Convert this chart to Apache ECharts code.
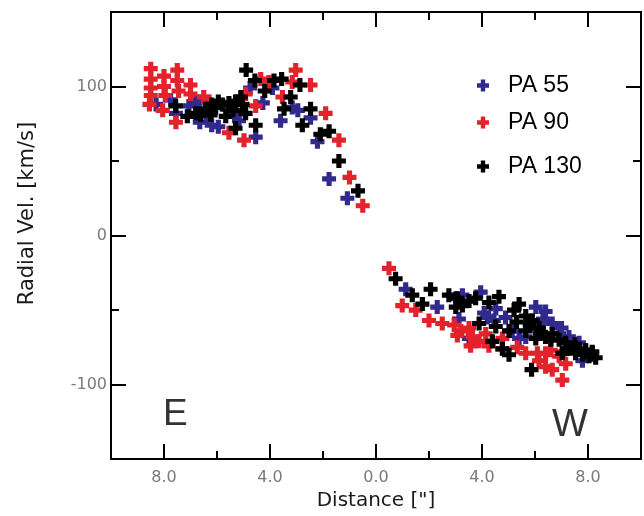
<!DOCTYPE html>
<html>
<head>
<meta charset="utf-8">
<script src="https://cdn.jsdelivr.net/npm/echarts@6/dist/echarts.min.js"></script>
<style>html,body{margin:0;padding:0;background:#fff;}#c{width:644px;height:516px;}</style>
</head>
<body>
<div id="c"></div>
<script>
// Distance: negative = East (left), positive = West (right); labels show absolute value
const xMajorTicks = [-8, -4, 0, 4, 8];
const xMinorTicks = [-6, -2, 2, 6];
const yMajorTicks = [-100, 0, 100];
const yMinorTicks = [-50, 50];
const seriesNames = ['PA 55', 'PA 90', 'PA 130'];

const pa55 = [
  [-8.3, 88], [-7.75, 91], [-7.55, 82], [-7.06, 87], [-6.8, 89], [-6.68, 90], [-6.65, 76], [-6.4, 80],
  [-6.2, 74], [-5.95, 73], [-5.6, 85], [-5.3, 81], [-5.17, 77], [-4.75, 99], [-4.54, 66], [-4.27, 89],
  [-3.91, 99], [-3.6, 77], [-3.16, 86], [-2.95, 84], [-2.47, 79], [-2.21, 63], [-1.77, 38], [-1.08, 25],
  [1.12, -36], [2.31, -48], [3.01, -42], [3.26, -40], [3.95, -38], [3.13, -56], [3.51, -69], [4.08, -52],
  [4.2, -55], [4.45, -57], [4.52, -49], [4.89, -55], [5.14, -64], [5.4, -69], [5.65, -68], [6.03, -48],
  [6.3, -56], [6.4, -51], [6.65, -59], [6.91, -66], [7.0, -62], [7.28, -68], [7.66, -72], [7.79, -84],
  [7.91, -77], [8.16, -79]
];
const pa90 = [
  [-8.5, 112], [-8.5, 105], [-8.5, 99], [-8.5, 94], [-8.55, 88], [-8.0, 107], [-8.0, 100], [-7.95, 94],
  [-8.05, 84], [-7.5, 111], [-7.5, 104], [-7.45, 97], [-7.55, 76], [-7.0, 101], [-7.0, 95], [-6.5, 93],
  [-6.3, 90], [-5.55, 69], [-4.98, 64], [-4.92, 95], [-4.54, 87], [-4.35, 105], [-4.04, 103], [-3.03, 111],
  [-3.16, 103], [-2.47, 101], [-3.53, 93], [-1.9, 82], [-1.4, 64], [-1.0, 39], [-0.5, 20],
  [0.49, -22], [0.99, -47], [1.5, -50], [2.0, -57], [2.5, -59], [2.95, -60], [3.07, -67], [3.2, -64],
  [3.51, -62], [3.57, -74], [3.64, -68], [3.89, -71], [4.14, -66], [4.26, -74], [4.77, -69], [4.77, -76],
  [5.33, -75], [5.65, -79], [6.09, -79], [6.15, -84], [6.4, -88], [6.4, -79], [6.59, -77], [6.65, -90],
  [6.91, -81], [7.03, -97], [7.16, -86]
];
const pa130 = [
  [-7.56, 87], [-7.12, 80], [-6.8, 82], [-6.62, 81], [-6.43, 85], [-6.24, 81], [-6.2, 88], [-6.05, 86],
  [-5.95, 90], [-5.8, 88], [-5.67, 80], [-5.55, 89], [-5.4, 84], [-5.3, 90], [-5.3, 72], [-5.1, 93],
  [-5.04, 88], [-4.92, 82], [-4.54, 74], [-4.9, 111], [-4.57, 104], [-4.2, 97], [-3.85, 104], [-3.56, 105],
  [-2.87, 101], [-3.22, 93], [-3.47, 85], [-2.47, 85], [-2.78, 74], [-2.1, 68], [-1.77, 70], [-1.4, 50],
  [-0.68, 30],
  [0.74, -29], [1.37, -40], [1.75, -46], [2.06, -36], [2.75, -40], [3.01, -48], [3.07, -42], [3.26, -47],
  [3.51, -44], [3.76, -42], [3.89, -59], [4.26, -45], [4.39, -71], [4.52, -61], [4.64, -41], [4.77, -76],
  [5.02, -80], [5.02, -64], [5.21, -50], [5.3, -58], [5.4, -46], [5.65, -54], [5.65, -64], [5.8, -60],
  [5.87, -90], [5.9, -57], [6.03, -69], [6.15, -62], [6.2, -65], [6.4, -68], [6.6, -70], [6.65, -66],
  [6.91, -70], [7.03, -79], [7.16, -72], [7.2, -76], [7.41, -75], [7.5, -73], [7.53, -79], [7.66, -76],
  [7.8, -80], [7.91, -77], [8.04, -81], [8.1, -80], [8.16, -78], [8.29, -82]
];

const colors = ['#2f2a8c', '#e3222b', '#000000'];
const plus = 'path://M3.8,0H8.2V3.8H12V8.2H8.2V12H3.8V8.2H0V3.8H3.8Z';
const axisLineStyle = { color: '#000', width: 2 };

function xAx(position, ticks, len, labels, extra) {
  return Object.assign({
    type: 'value', min: -10, max: 10, position: position,
    axisLine: { show: true, onZero: false, lineStyle: axisLineStyle },
    axisTick: { show: true, inside: true, length: len, customValues: ticks, lineStyle: { color: '#000', width: 2 } },
    axisLabel: labels ? {
      show: true, customValues: ticks, formatter: v => Math.abs(v).toFixed(1),
      color: '#7a7a7a', fontSize: 16, fontFamily: 'DejaVu Sans', margin: 11
    } : { show: false },
    splitLine: { show: false }
  }, extra || {});
}
function yAx(position, ticks, len, labels, extra) {
  return Object.assign({
    type: 'value', min: -150, max: 150, position: position,
    axisLine: { show: true, onZero: false, lineStyle: axisLineStyle },
    axisTick: { show: true, inside: true, length: len, customValues: ticks, lineStyle: { color: '#000', width: 2 } },
    axisLabel: labels ? {
      show: true, customValues: ticks, color: '#7a7a7a', fontSize: 16, fontFamily: 'DejaVu Sans', margin: 4
    } : { show: false },
    splitLine: { show: false }
  }, extra || {});
}

const chart = echarts.init(document.getElementById('c'), null, { renderer: 'canvas' });
chart.setOption({
  backgroundColor: '#fff',
  animation: false,
  grid: { left: 111, right: 3, top: 12, bottom: 55, containLabel: false },
  xAxis: [
    xAx('bottom', xMajorTicks, 15, true, {
      name: 'Distance ["]', nameLocation: 'middle', nameGap: 24,
      nameTextStyle: { fontSize: 20, fontFamily: 'DejaVu Sans', color: '#1a1a1a', verticalAlign: 'top' }
    }),
    xAx('bottom', xMinorTicks, 8, false),
    xAx('top', xMajorTicks, 15, false),
    xAx('top', xMinorTicks, 8, false)
  ],
  yAxis: [
    yAx('left', yMajorTicks, 15, true, {
      name: 'Radial Vel. [km/s]', nameLocation: 'middle', nameGap: 73, nameRotate: 90,
      nameTextStyle: { fontSize: 21, fontFamily: 'DejaVu Sans', color: '#1a1a1a', padding: [0, 0, 0, 44] }
    }),
    yAx('left', yMinorTicks, 8, false),
    yAx('right', yMajorTicks, 15, false),
    yAx('right', yMinorTicks, 8, false)
  ],
  legend: seriesNames.map((n, i) => ({
    data: [n], orient: 'vertical', left: 472, top: [69, 106, 150][i],
    itemWidth: 12, itemHeight: 12, icon: plus, selectedMode: false,
    textStyle: { fontSize: 23, fontFamily: 'Liberation Sans', color: '#000', padding: [0, 0, 0, 14] }
  })),
  graphic: [
    { type: 'text', left: 163, top: 396, style: { text: 'E', fontSize: 37, fontFamily: 'Liberation Sans', fill: '#333' } },
    { type: 'text', left: 552, top: 407, style: { text: 'W', fontSize: 38, fontFamily: 'Liberation Sans', fill: '#333' } }
  ],
  series: [pa55, pa90, pa130].map((d, i) => ({
    name: seriesNames[i], type: 'scatter', data: d, symbol: plus, symbolSize: 14,
    itemStyle: { color: colors[i], opacity: 1 }, xAxisIndex: 0, yAxisIndex: 0
  }))
});
</script>
</body>
</html>
